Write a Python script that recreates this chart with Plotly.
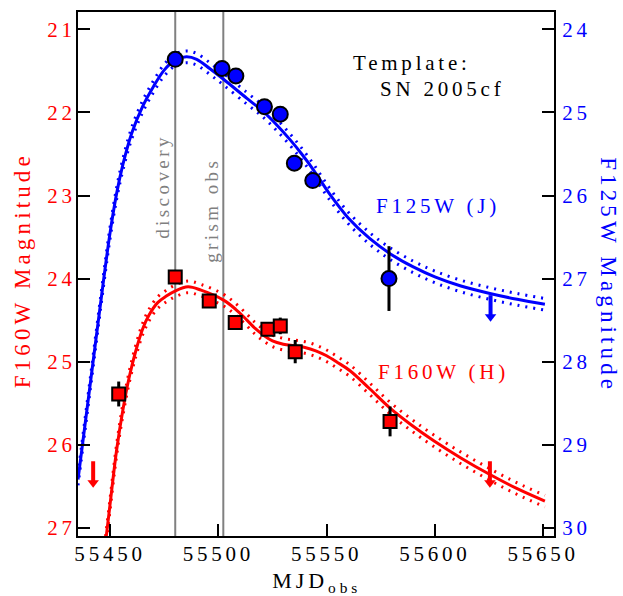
import plotly.graph_objects as go

# ---------------- data ----------------
# Template (SN 2005cf) model light curves
j_model_mjd = [55435.2, 55441.0, 55447.0, 55450.0, 55453.0, 55456.0, 55460.0, 55465.0,
               55470.0, 55475.0, 55480.0, 55485.3, 55490.0, 55496.0, 55502.4, 55513.2,
               55520.8, 55527.0, 55533.2, 55538.5, 55543.9, 55551.6, 55560.0, 55570.0,
               55579.3, 55590.0, 55600.0, 55612.0, 55625.4, 55638.0, 55650.8]
j_model_mag = [29.42, 28.24, 27.02, 26.45, 25.98, 25.62, 25.25, 24.93,
               24.69, 24.49, 24.37, 24.33, 24.36, 24.47, 24.60, 24.83,
               24.99, 25.15, 25.33, 25.50, 25.69, 25.99, 26.27, 26.52,
               26.70, 26.86, 26.98, 27.09, 27.18, 27.25, 27.31]

h_model_mjd = [55447.5, 55450.0, 55453.0, 55456.0, 55459.0, 55462.0, 55465.0, 55468.0,
               55472.0, 55476.0, 55480.0, 55486.0, 55492.0, 55502.4, 55508.0, 55513.2,
               55517.0, 55520.8, 55525.0, 55530.0, 55535.0, 55540.0, 55545.0, 55550.0,
               55555.0, 55560.8, 55570.0, 55579.3, 55589.0, 55599.3, 55612.0, 55625.4,
               55638.0, 55650.8]
h_model_mag = [27.27, 26.72, 26.07, 25.57, 25.17, 24.86, 24.61, 24.44,
               24.29, 24.21, 24.15, 24.10, 24.14, 24.26, 24.37, 24.50,
               24.60, 24.68, 24.75, 24.79, 24.81, 24.83, 24.87, 24.93,
               25.01, 25.11, 25.33, 25.56, 25.76, 25.95, 26.16, 26.36,
               26.53, 26.68]
model_unc = 0.07

# Observations
j_obs_mjd = [55480.1, 55501.7, 55508.1, 55521.3, 55528.6, 55535.1, 55543.6, 55578.8]
j_obs_mag = [24.36, 24.47, 24.56, 24.93, 25.02, 25.61, 25.82, 27.00]
j_obs_err = [0.05, 0.05, 0.05, 0.05, 0.05, 0.06, 0.06, 0.39]

h_obs_mjd = [55454.0, 55480.1, 55495.8, 55507.8, 55522.9, 55528.6, 55535.5, 55579.3]
h_obs_mag = [25.39, 23.98, 24.27, 24.53, 24.61, 24.57, 24.88, 25.72]
h_obs_err = [0.15, 0.05, 0.05, 0.05, 0.05, 0.10, 0.14, 0.18]

# Upper limits
h_lim_mjd = [55442.2, 55625.4]
h_lim_mag = [26.20, 26.20]
j_lim_mjd = [55625.7]
j_lim_mag = [27.20]

# Events
event_mjd = [55480.1, 55502.3]
event_label = ["discovery", "grism obs"]

x_ticks = [55450, 55500, 55550, 55600, 55650]
h_ticks = [21, 22, 23, 24, 25, 26, 27]
j_ticks = [24, 25, 26, 27, 28, 29, 30]

# ---------------- style ----------------
FONT = "Liberation Serif, 'Times New Roman', Times, serif"
RED = "#ff0000"
BLUE = "#0000ff"
GREY = "#808080"
SHAFT_LEN = 0.26   # mag, length of upper-limit arrow shaft

fig = go.Figure()

def band(mjd, mag, color, yaxis):
    up = [m - model_unc for m in mag]
    lo = [m + model_unc for m in mag]
    for arr in (up, lo):
        fig.add_trace(go.Scatter(x=mjd, y=arr, mode="lines", yaxis=yaxis,
                                 line=dict(color=color, width=3, dash="2px,6px", shape="spline", smoothing=1.0),
                                 hoverinfo="skip", showlegend=False))
    fig.add_trace(go.Scatter(x=mjd, y=mag, mode="lines", yaxis=yaxis,
                             line=dict(color=color, width=3, shape="spline", smoothing=1.0),
                             showlegend=False))

band(h_model_mjd, h_model_mag, RED, "y")
band(j_model_mjd, j_model_mag, BLUE, "y2")

fig.add_trace(go.Scatter(x=h_obs_mjd, y=h_obs_mag, mode="markers", yaxis="y",
                         marker=dict(symbol="square", size=13, color=RED, line=dict(color="black", width=2)),
                         error_y=dict(type="data", array=h_obs_err, color="black", thickness=3, width=0),
                         showlegend=False))
fig.add_trace(go.Scatter(x=j_obs_mjd, y=j_obs_mag, mode="markers", yaxis="y2",
                         marker=dict(symbol="circle", size=15, color=BLUE, line=dict(color="black", width=2)),
                         error_y=dict(type="data", array=j_obs_err, color="black", thickness=3, width=0),
                         showlegend=False))

# upper-limit arrows (shaft + head)
def limits(mjd, mag, color, yaxis):
    xs, ys = [], []
    for m, v in zip(mjd, mag):
        xs += [m, m, None]
        ys += [v, v + SHAFT_LEN, None]
    fig.add_trace(go.Scatter(x=xs, y=ys, mode="lines", yaxis=yaxis,
                             line=dict(color=color, width=4), hoverinfo="skip", showlegend=False))
    fig.add_trace(go.Scatter(x=mjd, y=[v + SHAFT_LEN for v in mag], mode="markers", yaxis=yaxis,
                             marker=dict(symbol="triangle-down", size=10, color=color, line=dict(width=0)),
                             showlegend=False))

limits(h_lim_mjd, h_lim_mag, RED, "y")
limits(j_lim_mjd, j_lim_mag, BLUE, "y2")

# event lines
for m in event_mjd:
    fig.add_shape(type="line", xref="x", yref="paper", x0=m, x1=m, y0=0, y1=1,
                  line=dict(color=GREY, width=2), layer="below")

annotations = []

def label(text, x, y, size, color, angle=0, xref="paper", xshift=0):
    annotations.append(dict(x=x, y=y, xref=xref, yref="paper", xanchor="center", yanchor="middle",
                            xshift=xshift, text=text, textangle=angle, showarrow=False,
                            font=dict(family=FONT, size=size, color=color)))

# event labels
label(event_label[0], event_mjd[0], 0.6676, 19, GREY, angle=-90, xref="x", xshift=-13)
label(event_label[1], event_mjd[1], 0.6218, 19, GREY, angle=-90, xref="x", xshift=-12)

# text labels
label("Template:", 0.7017, 0.9034, 21, "black")
label("SN 2005cf", 0.7647, 0.8526, 21, "black")
label("F125W (J)", 0.7563, 0.6294, 21, BLUE)
label("F160W (H)", 0.7679, 0.3134, 21, RED)

# axis titles
label("F160W Magnitude", -0.1176, 0.5073, 23, RED, angle=-90)
label("F125W Magnitude", 1.1155, 0.4978, 23, BLUE, angle=90)
annotations.append(dict(x=0.50, y=-0.0575, xref="paper", yref="paper", xanchor="center", yanchor="top",
                        text="MJD<sub>obs</sub>", showarrow=False,
                        font=dict(family=FONT, size=22, color="black")))

axis_common = dict(ticks="inside", ticklen=12, tickwidth=2, tickcolor="black", automargin=False,
                   showline=True, linewidth=2, linecolor="black", showgrid=False, zeroline=False)

fig.update_layout(
    width=623, height=596,
    margin=dict(l=78, r=69, t=12, b=60, autoexpand=False),
    paper_bgcolor="white", plot_bgcolor="white",
    font=dict(family=FONT, size=21, color="black"),
    annotations=annotations,
    xaxis=dict(range=[55435.2, 55655.0], tickvals=x_ticks, tickformat="d", mirror=True,
               ticklabelstandoff=-2,
               tickfont=dict(family=FONT, size=21, color="black"),
               **axis_common),
    yaxis=dict(range=[27.1, 20.79], tickvals=h_ticks, ticklabelstandoff=-4,
               tickfont=dict(family=FONT, size=21, color=RED),
               **axis_common),
    yaxis2=dict(range=[30.1, 23.79], tickvals=j_ticks, overlaying="y", side="right", ticklabelstandoff=2,
                tickfont=dict(family=FONT, size=21, color=BLUE),
                **axis_common),
)

post = ("var s=document.createElement('style');"
        "s.textContent='body{margin:0;} .main-svg text{letter-spacing:0.18em;}';"
        "document.head.appendChild(s);")

fig.write_html("out.html", post_script=post, config={"displayModeBar": False})
